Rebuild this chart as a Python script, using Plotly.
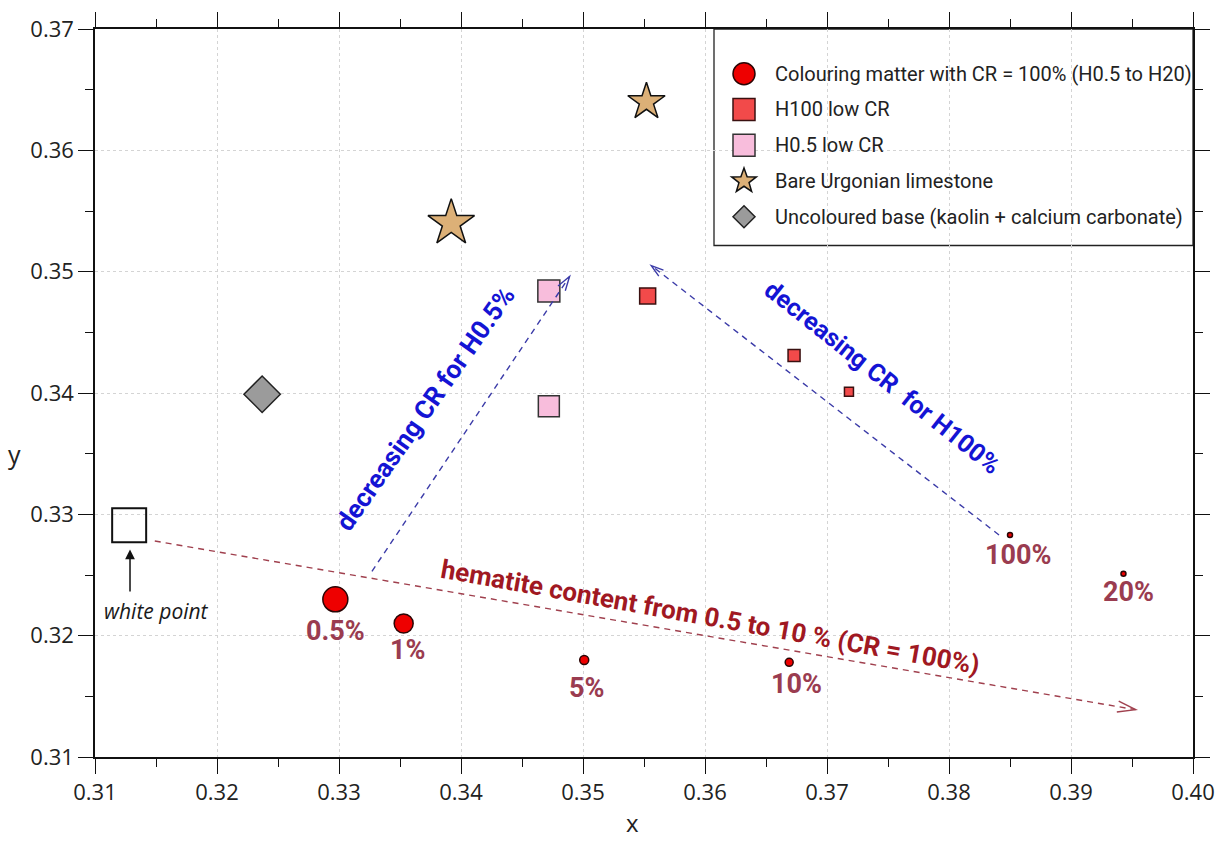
import math
import plotly.graph_objects as go

# ---- figure geometry -------------------------------------------------------
W, H = 1228, 841
MARGIN = dict(l=95, r=35, t=24, b=84)
X_RANGE = [0.31, 0.40]
Y_RANGE = [0.31, 0.37]

# ---- chromaticity data -----------------------------------------------------
# colouring matter applied with CR = 100 %, hematite content H0.5 ... H100
cm_labels = ["0.5%", "1%", "5%", "10%", "20%", "100%"]
cm_x = [0.3297, 0.3353, 0.3501, 0.3669, 0.3943, 0.3850]
cm_y = [0.3230, 0.3210, 0.3180, 0.3178, 0.3251, 0.3283]
cm_size = [25, 19, 9, 8, 5, 5]
cm_label_shift = [(0, -32), (4, -26), (2, -28), (7, -22), (5, -18), (8, -20)]

# H100 with low covering rate
h100_x = [0.3553, 0.3673, 0.3718]
h100_y = [0.3480, 0.3431, 0.3401]
h100_size = [16, 12, 9]

# H0.5 with low covering rate
h05_x = [0.3472, 0.3472]
h05_y = [0.3484, 0.3389]
h05_size = [22, 21]

# bare Urgonian limestone
lime_x = [0.3392, 0.3552]
lime_y = [0.3540, 0.3640]
lime_size = [35, 28]

# uncoloured base (kaolin + calcium carbonate)
base_x = [0.3237]
base_y = [0.3399]

# white point
wp_x = [0.3128]
wp_y = [0.3291]

# trend arrows (tail -> tip)
arrow_red = ((0.3149, 0.3278), (0.3953, 0.3139))
arrow_h05 = ((0.3327, 0.3253), (0.3489, 0.3496))
arrow_h100 = ((0.3841, 0.3283), (0.3556, 0.3505))

# legend entries
legend_names = [
    "Colouring matter with CR = 100% (H0.5 to H20)",
    "H100 low CR",
    "H0.5 low CR",
    "Bare Urgonian limestone",
    "Uncoloured base (kaolin + calcium carbonate)",
]

# ---- styles ----------------------------------------------------------------
TICK_FONT = dict(family="Open Sans", size=22, color="#222222")
LEG_FONT = dict(family="Roboto", size=20, color="#222222")
LABEL_COLOR = "#9a3c50"
RED_TEXT = "#a01822"
RED_ARROW = "#a0404e"
BLUE_TEXT = "#1414d4"
BLUE_ARROW = "#3b3ba8"

C_CIRCLE, L_CIRCLE = "#ee0000", "#2a0505"
C_H100, L_H100 = "#f24a4a", "#3a1010"
C_H05, L_H05 = "#f8bddc", "#333333"
C_LIME, L_LIME = "#dcb077", "#111111"
C_BASE, L_BASE = "#9b9b9b", "#222222"

plot_w = W - MARGIN["l"] - MARGIN["r"]
plot_h = H - MARGIN["t"] - MARGIN["b"]
sx = plot_w / (X_RANGE[1] - X_RANGE[0])  # px per data unit
sy = plot_h / (Y_RANGE[1] - Y_RANGE[0])


def px_to_paper_x(px):
    return (px - MARGIN["l"]) / plot_w


def px_to_paper_y(py):
    return (H - MARGIN["b"] - py) / plot_h


fig = go.Figure()

fig.add_trace(go.Scatter(
    x=cm_x, y=cm_y, mode="markers", name=legend_names[0],
    marker=dict(symbol="circle", size=cm_size, color=C_CIRCLE, opacity=1,
                line=dict(color=L_CIRCLE, width=1.5)),
))
fig.add_trace(go.Scatter(
    x=h100_x, y=h100_y, mode="markers", name=legend_names[1],
    marker=dict(symbol="square", size=h100_size, color=C_H100, opacity=1,
                line=dict(color=L_H100, width=1.5)),
))
fig.add_trace(go.Scatter(
    x=h05_x, y=h05_y, mode="markers", name=legend_names[2],
    marker=dict(symbol="square", size=h05_size, color=C_H05, opacity=1,
                line=dict(color=L_H05, width=1.5)),
))
fig.add_trace(go.Scatter(
    x=lime_x, y=lime_y, mode="markers", name=legend_names[3],
    marker=dict(symbol="star", size=lime_size, color=C_LIME, opacity=1,
                line=dict(color=L_LIME, width=1.5)),
))
fig.add_trace(go.Scatter(
    x=base_x, y=base_y, mode="markers", name=legend_names[4],
    marker=dict(symbol="diamond", size=28, color=C_BASE, opacity=1,
                line=dict(color=L_BASE, width=1.5)),
))
fig.add_trace(go.Scatter(
    x=wp_x, y=wp_y, mode="markers", name="white point",
    marker=dict(symbol="square-open", size=34, color="#111111", opacity=1,
                line=dict(width=2)),
))

# percentage labels under the CR = 100 % points
for lab, x, y, (dx, dy) in zip(cm_labels, cm_x, cm_y, cm_label_shift):
    fig.add_annotation(x=x, y=y, text=f"<b>{lab}</b>", showarrow=False,
                       xshift=dx, yshift=dy,
                       font=dict(family="Roboto", size=27, color=LABEL_COLOR))


def dashed_arrow(tail, tip, color, head_len, head_half_angle):
    (x0, y0), (x1, y1) = tail, tip
    fig.add_shape(type="line", x0=x0, y0=y0, x1=x1, y1=y1, xref="x", yref="y",
                  line=dict(color=color, width=1.4, dash="6px,5px"))
    # open "V" head built in pixel space, then mapped back to data units
    ang = math.atan2((y1 - y0) * sy, (x1 - x0) * sx)
    pts = []
    for s in (1, -1):
        a = ang + math.pi + s * math.radians(head_half_angle)
        pts.append((x1 + head_len * math.cos(a) / sx, y1 + head_len * math.sin(a) / sy))
    path = f"M {pts[0][0]},{pts[0][1]} L {x1},{y1} L {pts[1][0]},{pts[1][1]}"
    fig.add_shape(type="path", path=path, xref="x", yref="y",
                  line=dict(color=color, width=1.4))


dashed_arrow(*arrow_red, RED_ARROW, 19, 17)
dashed_arrow(*arrow_h05, BLUE_ARROW, 15, 17)
dashed_arrow(*arrow_h100, BLUE_ARROW, 13, 17)

# rotated captions along the arrows
fig.add_annotation(x=0.36046, y=0.32154,
                   text="<b>hematite content from 0.5 to 10 % (CR = 100%)</b>",
                   showarrow=False, textangle=10.2,
                   font=dict(family="Roboto", size=26, color=RED_TEXT))
fig.add_annotation(x=0.33712, y=0.33873, text="<b>decreasing CR for H0.5%</b>",
                   showarrow=False, textangle=-55,
                   font=dict(family="Roboto", size=26, color=BLUE_TEXT))
fig.add_annotation(x=0.37455, y=0.34127, text="<b>decreasing CR  for H100%</b>",
                   showarrow=False, textangle=38.5,
                   font=dict(family="Roboto", size=25, color=BLUE_TEXT))

# white point pointer and caption
fig.add_annotation(x=0.31287, y=0.32711, ax=0.31287, ay=0.32351, axref="x", ayref="y",
                   text="", showarrow=True, arrowhead=2, arrowsize=1.3, arrowwidth=1.5,
                   arrowcolor="#111111")
fig.add_annotation(x=0.31508, y=0.32203, text="<i>white point</i>", showarrow=False,
                   font=dict(family="Open Sans", size=21, color="#1a1a1a"))

# axis titles
fig.add_annotation(xref="paper", yref="paper", x=px_to_paper_x(632), y=px_to_paper_y(841),
                   xanchor="center", yanchor="bottom", text="x", showarrow=False,
                   borderpad=0, font=dict(family="Open Sans", size=24, color="#222222"))
fig.add_annotation(xref="paper", yref="paper", x=px_to_paper_x(15), y=px_to_paper_y(452),
                   xanchor="center", yanchor="middle", text="y", showarrow=False,
                   font=dict(family="Open Sans", size=25, color="#222222"))

# ---- legend box ------------------------------------------------------------
fig.add_shape(type="rect", xref="paper", yref="paper",
              x0=px_to_paper_x(714), x1=1.0, y0=px_to_paper_y(242), y1=1.0,
              line=dict(color="#222222", width=1.3), fillcolor="white", layer="below")

LEG_SYM_X = px_to_paper_x(744)
LEG_TEXT_X = px_to_paper_x(773)
LEG_ROWS = [69, 105, 141, 177, 213]


def pixel_shape(row, **kw):
    fig.add_shape(xref="paper", yref="paper", xsizemode="pixel", ysizemode="pixel",
                  xanchor=LEG_SYM_X, yanchor=px_to_paper_y(row), **kw)


def star_path(r_out, r_in):
    pts = []
    for k in range(10):
        r = r_out if k % 2 == 0 else r_in
        a = math.pi / 2 + k * math.pi / 5
        pts.append((r * math.cos(a), r * math.sin(a)))
    return "M " + " L ".join(f"{x:.2f},{y:.2f}" for x, y in pts) + " Z"


pixel_shape(LEG_ROWS[0], type="circle", x0=-11, x1=11, y0=-11, y1=11,
            fillcolor=C_CIRCLE, line=dict(color=L_CIRCLE, width=1.5))
pixel_shape(LEG_ROWS[1], type="rect", x0=-11, x1=11, y0=-11, y1=11,
            fillcolor=C_H100, line=dict(color=L_H100, width=1.5))
pixel_shape(LEG_ROWS[2], type="rect", x0=-11, x1=11, y0=-11, y1=11,
            fillcolor=C_H05, line=dict(color=L_H05, width=1.5))
pixel_shape(LEG_ROWS[3], type="path", path=star_path(13, 5.3),
            fillcolor=C_LIME, line=dict(color=L_LIME, width=1.5))
pixel_shape(LEG_ROWS[4], type="path", path="M 0,11 L 11,0 L 0,-11 L -11,0 Z",
            fillcolor=C_BASE, line=dict(color=L_BASE, width=1.5))

for name, row in zip(legend_names, LEG_ROWS):
    fig.add_annotation(xref="paper", yref="paper", x=LEG_TEXT_X, y=px_to_paper_y(row),
                       xanchor="left", yanchor="middle", text=name, showarrow=False,
                       font=LEG_FONT)

axis_common = dict(
    showline=True, linecolor="#111111", linewidth=1.5, mirror="ticks",
    ticks="outside", ticklen=15, tickwidth=1.4, tickcolor="#111111",
    showgrid=True, gridcolor="#d4d4d4", gridwidth=1, griddash="dot",
    zeroline=False, tickfont=TICK_FONT, tickformat=".2f", dtick=0.01,
    minor=dict(ticks="outside", ticklen=8, tickwidth=1.2, tickcolor="#111111",
               dtick=0.005, showgrid=False),
)

fig.update_layout(
    width=W, height=H, margin=MARGIN,
    paper_bgcolor="white", plot_bgcolor="white",
    xaxis=dict(range=X_RANGE, tick0=0.31, **axis_common),
    yaxis=dict(range=Y_RANGE, tick0=0.31, **axis_common),
    showlegend=False,
)

fig.write_html("out.html")
